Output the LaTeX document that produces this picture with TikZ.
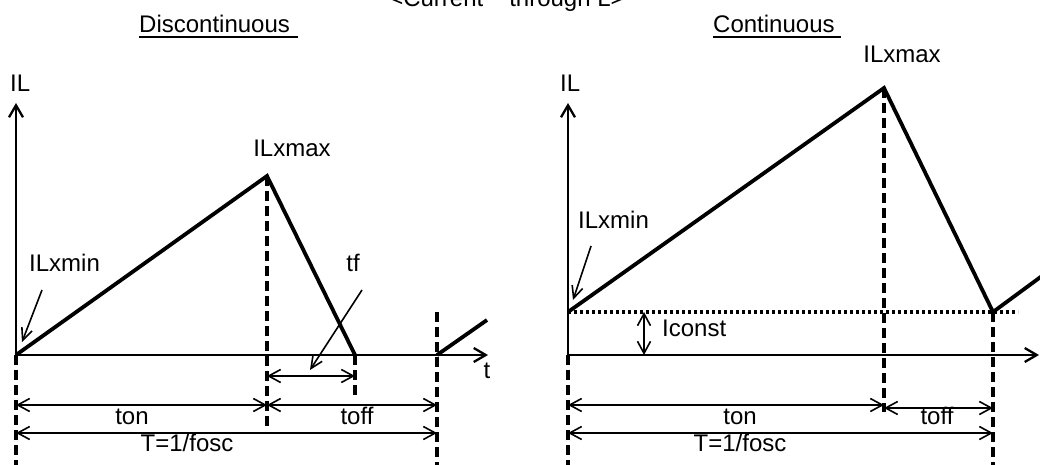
\documentclass[tikz,border=0pt]{standalone}
\usepackage{fontspec}
\setmainfont{Liberation Sans}
\usetikzlibrary{arrows.meta}
\begin{document}
\begin{tikzpicture}[x=1pt,y=-1pt,
  lbl/.style={inner sep=0pt, font=\fontsize{24}{28}\selectfont},
  axis/.style={line width=2.3pt, -{Straight Barb[length=12pt,width=14pt,line width=2.3pt]}},
  wave/.style={line width=3.8pt, line join=miter},
  dashv/.style={line width=3.4pt, dash pattern=on 10pt off 5pt},
  dotl/.style={line width=3.2pt, dash pattern=on 3pt off 3pt},
  dim/.style={line width=1.6pt, {Straight Barb[length=12pt,width=13pt,line width=1.6pt]}-{Straight Barb[length=12pt,width=13pt,line width=1.6pt]}},
  pointer/.style={line width=1.6pt, -{Straight Barb[length=12pt,width=11pt,line width=1.6pt]}},
  uline/.style={line width=2.2pt}]
\useasboundingbox (0,0) rectangle (1040,465);
\clip (0,0) rectangle (1040,465);

% ---------- titles ----------
\node[lbl, anchor=base] (title) at (507,7) {<Current\hspace{26pt}through L>};
\node[lbl, anchor=base west] (disc) at (139,33) {Discontinuous};
\draw[uline] ([yshift=-4pt]disc.base west) -- ([yshift=-4pt,xshift=8pt]disc.base east);
\node[lbl, anchor=base west] (cont) at (713,33) {Continuous};
\draw[uline] ([yshift=-4pt]cont.base west) -- ([yshift=-4pt,xshift=6pt]cont.base east);

% ---------- left graph ----------
\coordinate (Lo) at (16,355);
\coordinate (Ltop) at (16,103);
\coordinate (Lxe) at (488,355);
\coordinate (Lpk) at (267,176);
\coordinate (Lz) at (355,355);
\coordinate (Lp2) at (437,355);
\coordinate (Lr2) at (487,320);

\draw[dashv] (Lpk) -- (267,427) coordinate (Ld1);
\draw[dashv] (Lz) -- (355,397) coordinate (Ld2);
\draw[dashv] (437,312) coordinate (Ld3a) -- (437,465) coordinate (Ld3b);
\draw[dashv] (Lo) -- (16,465) coordinate (Ld0);

\draw[axis] (Lo) -- (Ltop);
\draw[axis] (Lo) -- (Lxe);
\draw[wave] (Lo) -- (Lpk) -- (Lz);
\draw[wave] (Lp2) -- (Lr2);

\node[lbl, anchor=base west] (LIL) at (10,92) {IL};
\node[lbl, anchor=base] (Lt) at (487,378) {t};
\node[lbl, anchor=base] (Lmax) at (292,157) {ILxmax};
\node[lbl, anchor=base west] (Lmin) at (29,271) {ILxmin};
\node[lbl, anchor=base] (Ltf) at (353,271) {tf};

\coordinate (LminS) at (42,290);
\coordinate (LminE) at (22,342);
\draw[pointer] (LminS) -- (LminE);
\coordinate (LtfS) at (362,290);
\coordinate (LtfE) at (310,370);
\draw[pointer] (LtfS) -- (LtfE);

\coordinate (Ltf1) at (267,376);
\coordinate (Ltf2) at (355,376);
\draw[dim] (Ltf1) -- (Ltf2);

\coordinate (Lton1) at (16,405);
\coordinate (Lton2) at (267,405);
\coordinate (Ltoff2) at (437,405);
\draw[dim] (Lton1) -- (Lton2);
\draw[dim] (Lton2) -- (Ltoff2);
\coordinate (LT1) at (16,433);
\coordinate (LT2) at (437,433);
\draw[dim] (LT1) -- (LT2);

\node[lbl, anchor=base] (Lton) at (132,424) {ton};
\node[lbl, anchor=base] (Ltoff) at (357,424) {toff};
\node[lbl, anchor=base] (LT) at (187,451) {T=1/fosc};

% ---------- right graph ----------
\coordinate (Ro) at (568,355);
\coordinate (Rtop) at (568,103);
\coordinate (Rxe) at (1039,355);
\coordinate (Rb) at (568,312);
\coordinate (Rpk) at (884,88);
\coordinate (Rv) at (993,312);
\coordinate (Rr2) at (1046,273);
\coordinate (Rdot) at (1018,312);

\draw[dotl] (Rb) -- (Rdot);
\draw[dashv] (Rpk) -- (884,412) coordinate (Rd1);
\draw[dashv] (Rv) -- (993,465) coordinate (Rd2);
\draw[dashv] (Ro) -- (568,465) coordinate (Rd0);

\draw[axis] (Ro) -- (Rtop);
\draw[axis] (Ro) -- (Rxe);
\draw[wave] (Rb) -- (Rpk) -- (Rv) -- (Rr2);

\node[lbl, anchor=base west] (RIL) at (560,92) {IL};
\node[lbl, anchor=base] (Rmax) at (902,63) {ILxmax};
\node[lbl, anchor=base west] (Rmin) at (578,228) {ILxmin};
\node[lbl, anchor=base west] (Rconst) at (662,336) {Iconst};

\coordinate (RminS) at (591,246);
\coordinate (RminE) at (573,300);
\draw[pointer] (RminS) -- (RminE);

\coordinate (Rc1) at (644,312);
\coordinate (Rc2) at (644,355);
\draw[dim] (Rc1) -- (Rc2);

\coordinate (Rton1) at (568,405);
\coordinate (Rton2) at (884,405);
\coordinate (Rtoff1) at (884,408);
\coordinate (Rtoff2) at (993,408);
\draw[dim] (Rton1) -- (Rton2);
\draw[dim] (Rtoff1) -- (Rtoff2);
\coordinate (RT1) at (568,433);
\coordinate (RT2) at (993,433);
\draw[dim] (RT1) -- (RT2);

\node[lbl, anchor=base] (Rton) at (740,424) {ton};
\node[lbl, anchor=base] (Rtoff) at (937,424) {toff};
\node[lbl, anchor=base] (RT) at (740,451) {T=1/fosc};
\end{tikzpicture}
\end{document}
